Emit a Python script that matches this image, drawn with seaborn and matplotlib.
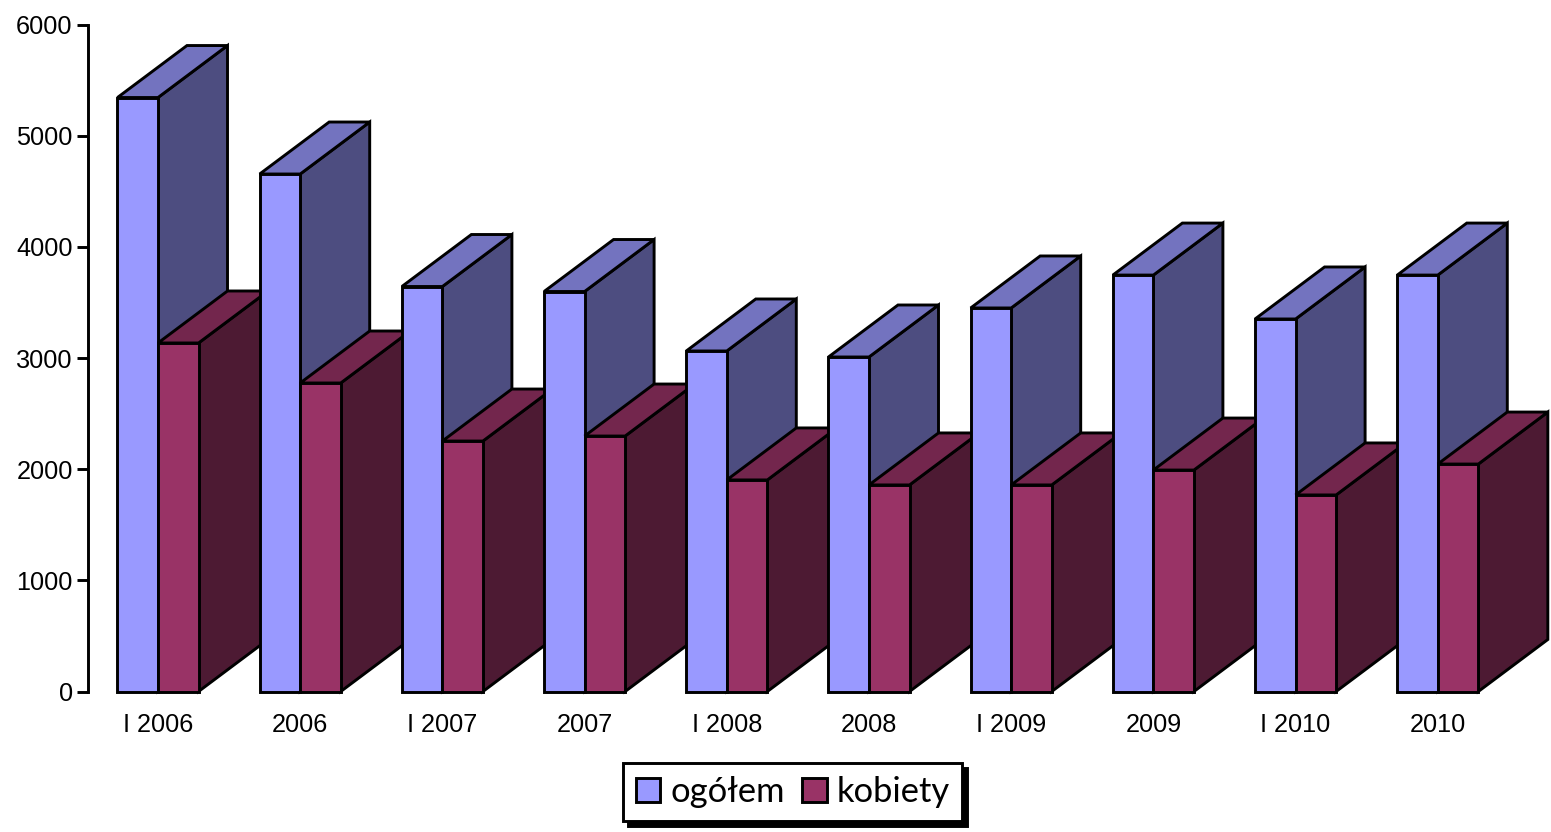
import matplotlib
matplotlib.use("Agg")
import matplotlib.pyplot as plt
import seaborn as sns
import pandas as pd

categories = ["I 2006", "2006", "I 2007", "2007", "I 2008", "2008", "I 2009", "2009", "I 2010", "2010"]
ogolem = [5343, 4655, 3643, 3598, 3063, 3009, 3450, 3746, 3351, 3746]
kobiety = [3135, 2775, 2253, 2298, 1903, 1858, 1858, 1992, 1768, 2046]
series_names = ["ogółem", "kobiety"]
y_ticks = [0, 1000, 2000, 3000, 4000, 5000, 6000]

FRONT = ["#9999FF", "#993366"]
SIDE = ["#4D4D80", "#4D1A33"]
TOP = ["#7373BF", "#73264D"]
W, H = 1551, 832
LW = 2.1

sns.set_theme(style="white")
plt.rcParams["font.family"] = ["Liberation Sans", "DejaVu Sans"]

df = pd.DataFrame({
    "kategoria": categories * 2,
    "seria": [series_names[0]] * len(categories) + [series_names[1]] * len(categories),
    "wartosc": ogolem + kobiety,
})

fig = plt.figure(figsize=(W / 100, H / 100), dpi=100, facecolor="white")
ax = fig.add_axes([88 / W, 1 - 691.5 / H, (W - 88) / W, 667 / H])

sns.barplot(data=df, x="kategoria", y="wartosc", hue="seria", order=categories,
            hue_order=series_names, palette=FRONT, width=0.57, gap=0, dodge=True,
            edgecolor="black", linewidth=LW, saturation=1, errorbar=None, ax=ax)

ax.set_ylim(0, 6000)
ax.set_xlim((88 - 158) / 142.2, (W - 158) / 142.2)
ax.set_xlabel("")
ax.set_ylabel("")

dx = 69.5 / 142.2
dy = 52 / (667 / 6000)

for s, cont in enumerate(ax.containers[:2]):
    for i, p in enumerate(cont.patches):
        x0, x1, h = p.get_x(), p.get_x() + p.get_width(), p.get_height()
        z = 3 + i * 3 + s * 1.5
        p.set_zorder(z + 1)
        p.set_joinstyle("miter")
        p.set_clip_on(False)
        ax.fill([x1, x1 + dx, x1 + dx, x1], [0, dy, h + dy, h], facecolor=SIDE[s],
                edgecolor="black", linewidth=LW, zorder=z, clip_on=False, joinstyle="miter")
        ax.fill([x0, x0 + dx, x1 + dx, x1], [h, h + dy, h + dy, h], facecolor=TOP[s],
                edgecolor="black", linewidth=LW, zorder=z + 0.5, clip_on=False, joinstyle="miter")

sns.despine(ax=ax, top=True, right=True, bottom=True, left=False)
ax.spines["left"].set_linewidth(LW)
ax.spines["left"].set_color("black")
ax.set_yticks(y_ticks)
ax.tick_params(axis="y", left=True, length=8, width=LW, color="black", labelsize=18.2,
               labelcolor="black", pad=3)
ax.tick_params(axis="x", bottom=False, labelsize=18.2, labelcolor="black", pad=9.8)

handles, labels = ax.get_legend_handles_labels()
leg = ax.legend(handles, labels, loc="center", bbox_to_anchor=(792.5 / W, 1 - 792 / H),
                bbox_transform=fig.transFigure, ncol=2, frameon=True, fancybox=False,
                framealpha=1, edgecolor="black", facecolor="white", labelcolor="black",
                prop={"family": "Lato", "size": 24.8}, columnspacing=0.5, handlelength=0.72,
                handleheight=0.72, handletextpad=0.28, borderpad=0.38, borderaxespad=0,
                shadow={"color": "black", "alpha": 1, "ox": 3.6, "oy": -3.6})
leg.get_frame().set_linewidth(LW)
leg.set_zorder(100)

fig.savefig("out.png", dpi=100, facecolor="white")
